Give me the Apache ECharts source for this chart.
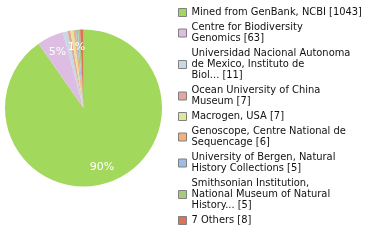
<!DOCTYPE html>
<html>
<head>
<meta charset="utf-8">
<script src="https://cdn.jsdelivr.net/npm/echarts@6/dist/echarts.min.js"></script>
<style>html,body{margin:0;padding:0;background:#fff}#c{width:380px;height:240px}</style>
</head>
<body>
<div id="c"></div>
<script>
var categories = [
  "Mined from GenBank, NCBI",
  "Centre for Biodiversity Genomics",
  "Universidad Nacional Autonoma de Mexico, Instituto de Biol...",
  "Ocean University of China Museum",
  "Macrogen, USA",
  "Genoscope, Centre National de Sequencage",
  "University of Bergen, Natural History Collections",
  "Smithsonian Institution, National Museum of Natural History...",
  "7 Others"
];
var legendLabels = [
  "Mined from GenBank, NCBI",
  "Centre for Biodiversity\nGenomics",
  "Universidad Nacional Autonoma\nde Mexico, Instituto de\nBiol...",
  "Ocean University of China\nMuseum",
  "Macrogen, USA",
  "Genoscope, Centre National de\nSequencage",
  "University of Bergen, Natural\nHistory Collections",
  "Smithsonian Institution,\nNational Museum of Natural\nHistory...",
  "7 Others"
];
var values = [1043, 63, 11, 7, 7, 6, 5, 5, 8];
var colors = ["#a2d95c", "#ddbde1", "#c8d9e6", "#e4a89c", "#dfe79d", "#f3b07a", "#9dbde3", "#a5cc7a", "#e0705a"];

var total = values.reduce(function (a, b) { return a + b; }, 0);
var data = categories.map(function (n, i) { return { name: n, value: values[i] }; });
var labelMap = {};
categories.forEach(function (n, i) { labelMap[n] = legendLabels[i] + " [" + values[i] + "]"; });

var chart = echarts.init(document.getElementById('c'), null, { renderer: 'canvas' });
chart.setOption({
  animation: false,
  color: colors,
  legend: {
    orient: 'vertical',
    left: 178,
    top: 7,
    padding: 0,
    itemWidth: 8,
    itemHeight: 8,
    itemGap: 4,
    icon: 'rect',
    itemStyle: { borderColor: '#808080', borderWidth: 1 },
    selectedMode: false,
    formatter: function (n) { return labelMap[n]; },
    textStyle: { fontFamily: 'DejaVu Sans Condensed', fontSize: 11, lineHeight: 11, color: '#111' },
    data: categories
  },
  series: [
    {
      type: 'pie',
      center: [83.5, 108],
      radius: [0, 78.5],
      startAngle: 90,
      clockwise: true,
      silent: true,
      label: { show: false },
      labelLine: { show: false },
      itemStyle: { borderWidth: 0 },
      data: data
    },
    {
      type: 'pie',
      center: [83.5, 108],
      radius: [40, 77],
      startAngle: 90,
      clockwise: true,
      silent: true,
      legendHoverLink: false,
      itemStyle: { color: 'rgba(0,0,0,0)', borderWidth: 0 },
      label: {
        show: true,
        position: 'inside',
        color: '#fff',
        fontFamily: 'DejaVu Sans',
        fontSize: 11,
        formatter: function (p) { return Math.round(p.value / total * 100) + '%'; }
      },
      labelLine: { show: false },
      data: data.map(function (d) { return { name: d.name + ' ', value: d.value }; })
    }
  ]
});
</script>
</body>
</html>
